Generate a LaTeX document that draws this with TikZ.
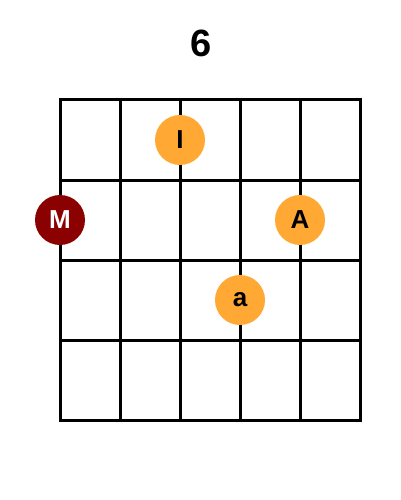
\documentclass[tikz,border=0pt]{standalone}
\usepackage{fontspec}
\setmainfont{Liberation Sans}
\definecolor{fingerorange}{HTML}{FFA833}
\definecolor{fingerred}{HTML}{8B0000}
\begin{document}
\begin{tikzpicture}[x=1pt,y=-1pt,
  gridline/.style={line width=3pt, line cap=rect},
  finger/.style={circle, minimum size=50pt, inner sep=0pt, font=\fontsize{26}{26}\selectfont\bfseries},
  orangedot/.style={finger, fill=fingerorange, text=black},
  reddot/.style={finger, fill=fingerred, text=white}]
\useasboundingbox (0,0) rectangle (400,500);
\node[font=\fontsize{38}{38}\selectfont\bfseries] (title) at (201,43) {6};
\foreach \x in {60,120,180,240,300,360} \draw[gridline] (\x,100) -- (\x,420);
\foreach \y in {100,180,260,340,420} \draw[gridline] (60,\y) -- (360,\y);
\node[orangedot] (I) at (180,140) {I};
\node[reddot] (M) at (60,220) {M};
\node[orangedot] (A) at (300,220) {A};
\node[orangedot] (a) at (240,300) {a};
\end{tikzpicture}
\end{document}
